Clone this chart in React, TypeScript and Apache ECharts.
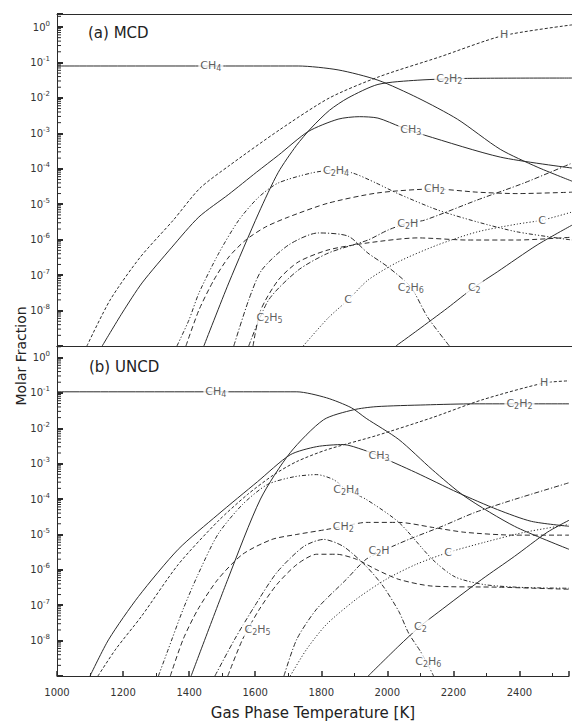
import React, { useEffect, useRef } from "react";
import * as echarts from "echarts";

const FONT = "DejaVu Sans";
const INK = "#2b2b2b";

// x axis (gas phase temperature, K)
const xMin = 1000;
const xMax = 2550;
const xStep = 200;

// y values are log10(molar fraction); axis labels show 10^n
const yMin = -9;
const yMaxA = 0.367;
const yMaxB = 0.324;
const decadeLabels = [-8, -7, -6, -5, -4, -3, -2, -1, 0];

// ---------- (a) MCD : [T (K), log10 molar fraction] ----------
const mcdH = [[1090, -9.0], [1160, -7.7], [1250, -6.5], [1350, -5.45], [1430, -4.55], [1520, -3.9], [1670, -2.9], [1820, -2.0], [1970, -1.4], [2150, -0.85], [2340, -0.25], [2550, 0.06]];
const mcdC2H2 = [[1442, -9.0], [1517, -7.22], [1607, -5.25], [1666, -4.1], [1720, -3.35], [1765, -2.85], [1820, -2.35], [1876, -2.0], [1966, -1.62], [2086, -1.5], [2235, -1.45], [2550, -1.44]];
const mcdCH4 = [[1000, -1.1], [1726, -1.1], [1846, -1.21], [1966, -1.5], [2086, -2.0], [2205, -2.6], [2334, -3.45], [2445, -3.95], [2550, -4.35]];
const mcdCH3 = [[1136, -9.0], [1196, -8.07], [1256, -7.22], [1346, -6.21], [1427, -5.36], [1517, -4.72], [1600, -4.1], [1666, -3.62], [1756, -2.95], [1846, -2.6], [1910, -2.53], [1966, -2.57], [2035, -2.82], [2106, -3.05], [2334, -3.67], [2550, -3.98]];
const mcdC2H4 = [[1361, -9.0], [1397, -8.27], [1427, -7.51], [1487, -6.38], [1547, -5.45], [1607, -4.8], [1666, -4.4], [1765, -4.12], [1830, -4.04], [1890, -4.12], [1960, -4.4], [2026, -4.7], [2145, -5.16], [2265, -5.5], [2385, -5.78], [2550, -6.01]];
const mcdCH2 = [[1388, -9.0], [1427, -7.99], [1472, -7.14], [1517, -6.49], [1568, -6.01], [1628, -5.64], [1697, -5.36], [1816, -4.97], [1966, -4.68], [2136, -4.57], [2265, -4.66], [2385, -4.7], [2550, -4.66]];
const mcdC2H = [[1577, -9.0], [1637, -7.7], [1726, -6.86], [1816, -6.38], [1936, -6.01], [1996, -5.73], [2056, -5.53], [2106, -5.45], [2265, -4.88], [2406, -4.4], [2550, -3.84]];
const mcdC2H6 = [[1532, -9.0], [1577, -7.7], [1616, -6.86], [1697, -6.15], [1786, -5.81], [1876, -5.9], [1936, -6.38], [1996, -6.77], [2065, -7.34], [2115, -8.18], [2181, -9.0]];
const mcdC = [[1741, -9.0], [1816, -8.21], [1876, -7.7], [1936, -7.14], [2026, -6.63], [2145, -6.15], [2265, -5.78], [2385, -5.56], [2460, -5.45], [2550, -5.22]];
const mcdC2 = [[2020, -9.0], [2086, -8.55], [2175, -7.93], [2256, -7.34], [2325, -6.91], [2445, -6.15], [2550, -5.59]];
const mcdCH = [[1590, -9.0], [1613, -7.99], [1666, -7.14], [1726, -6.63], [1816, -6.29], [1936, -6.09], [2086, -5.95], [2235, -6.01], [2385, -6.01], [2550, -5.93]];
const mcdLabels = [
  [2346, -0.2, "H"], [2181, -1.44, "C{s|2}H{s|2}"], [1463, -1.1, "CH{s|4}"], [2065, -2.9, "CH{s|3}"],
  [1840, -4.05, "C{s|2}H{s|4}"], [2136, -4.57, "CH{s|2}"], [2056, -5.53, "C{s|2}H"], [2065, -7.34, "C{s|2}H{s|6}"],
  [2460, -5.45, "C"], [2256, -7.34, "C{s|2}"], [1876, -7.7, "C"], [1640, -8.2, "C{s|2}H{s|5}"],
];

// ---------- (b) UNCD ----------
const ucdCH4 = [[1000, -0.97], [1726, -0.97], [1816, -1.14], [1891, -1.42], [1936, -1.72], [2035, -2.32], [2136, -3.17], [2235, -3.93], [2385, -4.77], [2550, -5.42]];
const ucdC2H2 = [[1406, -9.0], [1517, -6.27], [1616, -4.0], [1706, -2.69], [1807, -1.76], [1897, -1.48], [1966, -1.39], [2115, -1.34], [2265, -1.31], [2550, -1.31]];
const ucdH = [[1124, -9.0], [1178, -8.24], [1256, -7.31], [1367, -5.85], [1487, -4.63], [1577, -3.87], [1657, -3.31], [1726, -2.94], [1816, -2.61], [1966, -2.21], [2136, -1.7], [2286, -1.2], [2475, -0.72], [2550, -0.66]];
const ucdCH3 = [[1100, -9.0], [1157, -7.96], [1247, -6.75], [1367, -5.42], [1487, -4.44], [1607, -3.51], [1706, -2.75], [1786, -2.52], [1867, -2.46], [1927, -2.61], [1966, -2.75], [2086, -3.25], [2214, -3.82], [2334, -4.3], [2436, -4.63], [2550, -4.77]];
const ucdC2H4 = [[1307, -9.0], [1337, -8.24], [1382, -7.11], [1427, -6.13], [1487, -5.0], [1562, -4.15], [1637, -3.59], [1718, -3.37], [1786, -3.31], [1837, -3.45], [1876, -3.73], [1936, -4.01], [2035, -4.66], [2136, -5.7], [2205, -6.2], [2295, -6.42], [2415, -6.5], [2550, -6.52]];
const ucdCH2 = [[1343, -9.0], [1382, -7.96], [1427, -7.11], [1487, -6.27], [1562, -5.56], [1651, -5.14], [1726, -5.0], [1816, -4.86], [1867, -4.77], [1936, -4.66], [2035, -4.66], [2136, -4.8], [2235, -4.94], [2385, -5.02], [2550, -5.02]];
const ucdC2H = [[1687, -9.0], [1726, -7.96], [1786, -7.11], [1876, -6.27], [1936, -5.7], [1996, -5.42], [2065, -5.14], [2166, -4.77], [2265, -4.38], [2385, -4.01], [2550, -3.54]];
const ucdC = [[1706, -9.0], [1756, -8.24], [1816, -7.54], [1906, -6.83], [1996, -6.27], [2086, -5.85], [2184, -5.51], [2295, -5.22], [2415, -4.94], [2550, -4.72]];
const ucdC2H6 = [[1478, -9.0], [1538, -7.96], [1598, -7.03], [1666, -6.07], [1747, -5.34], [1807, -5.14], [1867, -5.34], [1936, -5.9], [1987, -6.46], [2035, -7.18], [2065, -7.8], [2100, -8.3], [2124, -8.7], [2140, -9.0]];
const ucdC2 = [[1942, -9.0], [2035, -8.15], [2100, -7.59], [2154, -7.2], [2286, -6.27], [2385, -5.62], [2484, -4.94], [2550, -4.6]];
const ucdCH = [[1517, -9.0], [1562, -7.96], [1613, -7.11], [1666, -6.41], [1726, -5.85], [1786, -5.56], [1846, -5.56], [1906, -5.7], [1966, -5.99], [2035, -6.27], [2136, -6.46], [2334, -6.49], [2550, -6.55]];
const ucdLabels = [
  [1481, -0.97, "CH{s|4}"], [2400, -1.31, "C{s|2}H{s|2}"], [2475, -0.72, "H"], [1975, -2.78, "CH{s|3}"],
  [1876, -3.73, "C{s|2}H{s|4}"], [1867, -4.77, "CH{s|2}"], [1975, -5.45, "C{s|2}H"], [2184, -5.51, "C"],
  [2100, -7.59, "C{s|2}"], [2124, -8.6, "C{s|2}H{s|6}"], [1607, -7.68, "C{s|2}H{s|5}"],
];

const SOLID = "solid";
const DASH = [5, 3];
const SHORTDASH = [3, 2];
const DOT = [1.2, 2];
const DASHDOT = [5, 2, 1.2, 2];
const DASHDOTDOT = [4, 2, 1.2, 2, 1.2, 2];

const mcdSeries = [
  [mcdH, SHORTDASH], [mcdC2H2, SOLID], [mcdCH4, SOLID], [mcdCH3, SOLID], [mcdC2H4, DASHDOTDOT],
  [mcdCH2, DASH], [mcdC2H, DASHDOT], [mcdC2H6, DASHDOT], [mcdC, DOT], [mcdC2, SOLID], [mcdCH, DASH],
];
const ucdSeries = [
  [ucdH, SHORTDASH], [ucdC2H2, SOLID], [ucdCH4, SOLID], [ucdCH3, SOLID], [ucdC2H4, DASHDOTDOT],
  [ucdCH2, DASH], [ucdC2H, DASHDOT], [ucdC2H6, DASHDOT], [ucdC, DOT], [ucdC2, SOLID], [ucdCH, DASH],
];

function buildOption() {
  const grids = [
    { left: 57, width: 518, top: 14, height: 332 },
    { left: 57, width: 518, top: 346, height: 331 },
  ].map((g) => ({ ...g, show: false, containLabel: false }));

  const xAxisBase = (i: number) => ({
    type: "value",
    gridIndex: i,
    min: xMin,
    max: xMax,
    interval: xStep,
    axisLine: { show: true, onZero: false, lineStyle: { color: INK, width: 1 } },
    axisTick: { show: i === 1, inside: true, length: 5, lineStyle: { color: INK, width: 1.5 } },
    minorTick: { show: i === 1, splitNumber: 2, length: 3, lineStyle: { color: INK, width: 1 } },
    axisLabel: {
      show: i === 1,
      color: "#333",
      fontFamily: FONT,
      fontSize: 10,
      margin: 11,
      formatter: (v: number) => (v <= 2400 ? String(v) : ""),
    },
    splitLine: { show: false },
    name: i === 1 ? "Gas Phase Temperature [K]" : "",
    nameLocation: "middle",
    nameGap: 29,
    nameTextStyle: { color: "#222", fontFamily: FONT, fontSize: 15 },
  });
  const topX = (i: number) => ({
    type: "value",
    gridIndex: i,
    position: "top",
    min: xMin,
    max: xMax,
    axisLine: { show: true, onZero: false, lineStyle: { color: INK, width: 1 } },
    axisTick: { show: false },
    axisLabel: { show: false },
    splitLine: { show: false },
  });
  const yAxisBase = (i: number, max: number) => ({
    type: "value",
    gridIndex: i,
    min: yMin,
    max,
    interval: 1,
    axisLine: { show: true, onZero: false, lineStyle: { color: INK, width: 1 } },
    axisTick: { show: true, inside: true, length: 6, lineStyle: { color: INK, width: 2 } },
    axisLabel: {
      color: "#333",
      fontFamily: FONT,
      fontSize: 10,
      margin: 7,
      lineHeight: 14,
      formatter: (v: number) => (decadeLabels.includes(Math.round(v)) && Math.abs(v - Math.round(v)) < 1e-6 ? `10{sup|${Math.round(v)}}` : ""),
      rich: { sup: { fontSize: 7, lineHeight: 8, verticalAlign: "top", fontFamily: FONT, color: "#333" } },
    },
    splitLine: { show: false },
  });

  const series: any[] = [];
  const addLines = (list: any[], gi: number) => {
    list.forEach(([data, dash]) => {
      series.push({
        type: "line",
        xAxisIndex: gi * 2,
        yAxisIndex: gi,
        data,
        showSymbol: false,
        symbol: "none",
        smooth: 0.25,
        clip: true,
        lineStyle: { color: INK, width: 1, type: dash },
        silent: true,
        z: 2,
      });
    });
  };
  addLines(mcdSeries, 0);
  addLines(ucdSeries, 1);

  const addLabels = (labels: any[], gi: number) => {
    series.push({
      type: "scatter",
      xAxisIndex: gi * 2,
      yAxisIndex: gi,
      data: labels,
      symbolSize: 1,
      itemStyle: { color: "rgba(0,0,0,0)" },
      silent: true,
      z: 5,
      label: {
        show: true,
        position: "inside",
        formatter: (p: any) => p.data[2],
        color: "#333",
        fontFamily: FONT,
        fontSize: 11,
        lineHeight: 14,
        backgroundColor: "#fff",
        padding: [0, 2, 0, 2],
        rich: { s: { fontSize: 8, lineHeight: 9, verticalAlign: "bottom", fontFamily: FONT, color: "#333" } },
      },
    });
  };
  addLabels(mcdLabels, 0);
  addLabels(ucdLabels, 1);

  // logarithmic minor ticks along the y axes (k * 10^n, k = 2..9)
  const minor: number[][] = [];
  for (let n = -9; n <= 0; n++) for (let k = 2; k <= 9; k++) minor.push([xMin, n + Math.log10(k)]);
  [0, 1].forEach((gi) => {
    const max = gi === 0 ? yMaxA : yMaxB;
    series.push({
      type: "custom",
      xAxisIndex: gi * 2,
      yAxisIndex: gi,
      data: minor.filter((d) => d[1] < max),
      silent: true,
      z: 4,
      renderItem: (_params: any, api: any) => {
        const p = api.coord([api.value(0), api.value(1)]);
        return { type: "line", shape: { x1: p[0], y1: p[1], x2: p[0] + 4, y2: p[1] }, style: { stroke: INK, lineWidth: 1 } };
      },
    });
  });

  return {
    animation: false,
    backgroundColor: "#fff",
    grid: grids,
    xAxis: [xAxisBase(0), topX(0), xAxisBase(1), topX(1)],
    yAxis: [yAxisBase(0, yMaxA), yAxisBase(1, yMaxB)],
    series,
    graphic: [
      { type: "text", left: 88, top: 25, style: { text: "(a) MCD", font: `15px "${FONT}"`, fill: "#222" } },
      { type: "text", left: 89, top: 359, style: { text: "(b) UNCD", font: `15px "${FONT}"`, fill: "#222" } },
      {
        type: "text",
        x: 21,
        y: 356,
        rotation: Math.PI / 2,
        style: { text: "Molar Fraction", font: `14px "${FONT}"`, fill: "#222", align: "center", verticalAlign: "middle" },
      },
    ],
  };
}

export default function App() {
  const ref = useRef<HTMLDivElement>(null);
  useEffect(() => {
    if (!ref.current) return;
    const chart = echarts.init(ref.current, null, { renderer: "svg" });
    chart.setOption(buildOption() as any);
    return () => chart.dispose();
  }, []);
  return <div ref={ref} style={{ position: "absolute", left: 0, top: 0, width: 572, height: 721, background: "#fff" }} />;
}
